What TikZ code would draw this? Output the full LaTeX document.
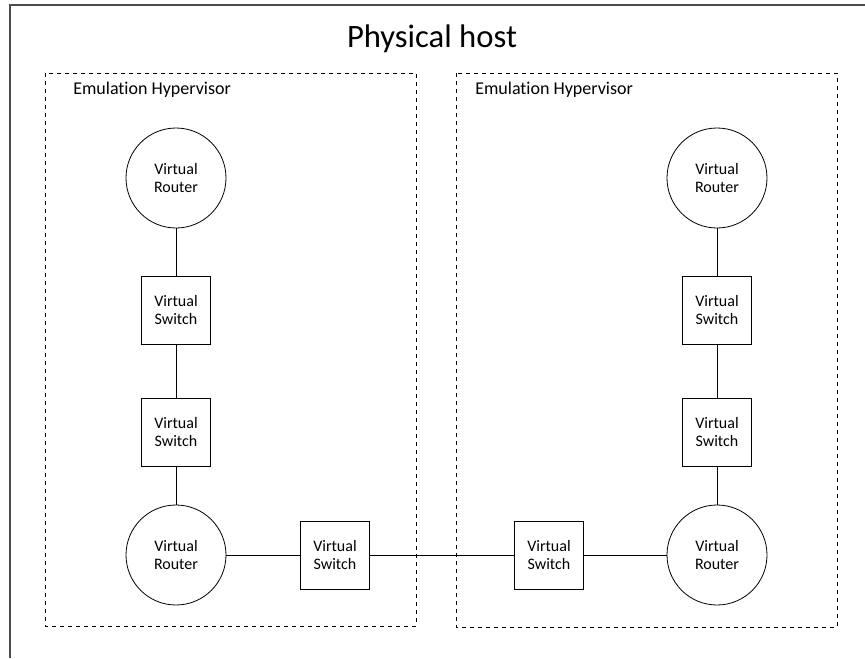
\documentclass[tikz,border=0pt]{standalone}
\usepackage{fontspec}
\setmainfont[Ligatures=NoCommon]{Carlito}
\usepackage{tikz}
\usetikzlibrary{positioning, shapes.geometric}

\tikzset{
	router/.style={circle, draw, line width=.6pt, minimum size=75pt, inner sep=0pt, align=center, font=\fontsize{12}{13.5}\selectfont},
	vswitch/.style={rectangle, draw, line width=.6pt, minimum width=52pt, minimum height=51pt, inner sep=0pt, align=center, font=\fontsize{12}{13.5}\selectfont},
	hyperbox/.style={draw, dashed, line width=.6pt},
	link/.style={line width=.6pt}
}

\begin{document}
\begin{tikzpicture}[x=.75pt, y=-.75pt]
			\useasboundingbox	(0, 0) rectangle (865, 658);
			% physical host frame
			\draw	[line width=1.1pt, black!70]	(865, 5) -- (10, 5) -- (10, 658);
			\node	(title)	at	(432, 39)	[font=\fontsize{24.5}{28}\selectfont]	{Physical host};

			% hypervisors
			\draw	[hyperbox]	(45, 73) rectangle (416, 626);
			\draw	[hyperbox]	(456, 73) rectangle (837, 627);
			\node	(hvL)	at	(73, 90)	[anchor=west, inner sep=0pt, font=\fontsize{13.5}{16}\selectfont]	{Emulation Hypervisor};
			\node	(hvR)	at	(475, 90)	[anchor=west, inner sep=0pt, font=\fontsize{13.5}{16}\selectfont]	{Emulation Hypervisor};

			% left side
			\node	(RL1)	at	(176, 178)	[router]	{Virtual\\Router};
			\node	(SL1)	at	(176, 310)	[vswitch]	{Virtual\\Switch};
			\node	(SL2)	at	(176, 432)	[vswitch]	{Virtual\\Switch};
			\node	(RL2)	at	(176, 555)	[router]	{Virtual\\Router};

			% right side
			\node	(RR1)	at	(717, 178)	[router]	{Virtual\\Router};
			\node	(SR1)	at	(717, 310)	[vswitch]	{Virtual\\Switch};
			\node	(SR2)	at	(717, 432)	[vswitch]	{Virtual\\Switch};
			\node	(RR2)	at	(717, 555)	[router]	{Virtual\\Router};

			% switches between hosts
			\node	(SM1)	at	(335, 555)	[vswitch]	{Virtual\\Switch};
			\node	(SM2)	at	(549, 555)	[vswitch]	{Virtual\\Switch};

			\draw	[link]	(RL1) -- (SL1) -- (SL2) -- (RL2);
			\draw	[link]	(RR1) -- (SR1) -- (SR2) -- (RR2);
			\draw	[link]	(RL2) -- (SM1) -- (SM2) -- (RR2);
		\end{tikzpicture}
\end{document}
